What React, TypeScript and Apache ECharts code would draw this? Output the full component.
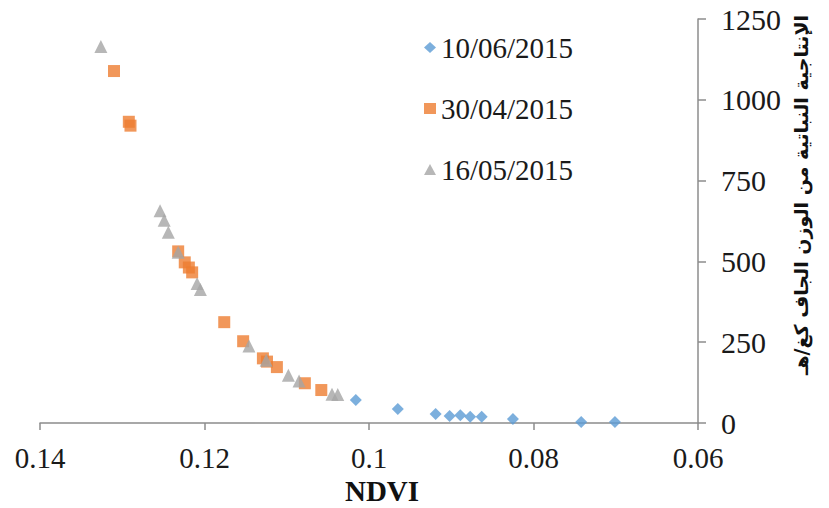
import React, { useEffect, useRef } from "react";
import * as echarts from "echarts";

const seriesNames = ["10/06/2015", "30/04/2015", "16/05/2015"];

const juneData: [number, number][] = [
  [0.1016, 71], [0.0965, 43], [0.0919, 28], [0.0902, 22], [0.0889, 24],
  [0.0877, 19], [0.0863, 19], [0.0825, 12], [0.0742, 3], [0.0701, 3],
];

const aprilData: [number, number][] = [
  [0.131, 1089], [0.1292, 932], [0.129, 920], [0.1232, 531], [0.1224, 497],
  [0.1219, 481], [0.1215, 466], [0.1176, 312], [0.1153, 253], [0.1129, 200],
  [0.1124, 190], [0.1112, 173], [0.1078, 123], [0.1058, 102],
];

const mayData: [number, number][] = [
  [0.1326, 1165], [0.1254, 657], [0.1249, 627], [0.1244, 590], [0.1232, 528],
  [0.1209, 432], [0.1205, 413], [0.1146, 238], [0.1125, 194], [0.1098, 148],
  [0.1085, 130], [0.1045, 89], [0.1038, 88],
];

const xTicks = { min: 0.06, max: 0.14, interval: 0.02 };
const yTicks = { min: 0, max: 1250, interval: 250 };

const xName = "NDVI";
const yName = "الإنتاجية النباتية من الوزن الجاف كغ/هـ";

const colors = ["#5B9BD5", "#ED7D31", "#A5A5A5"];

export default function App() {
  const ref = useRef<HTMLDivElement>(null);
  useEffect(() => {
    if (!ref.current) return;
    const chart = echarts.init(ref.current, undefined, { renderer: "svg" });
    const serif = "Liberation Serif";
    chart.setOption({
      animation: false,
      backgroundColor: "#ffffff",
      grid: { left: 40, right: 131, top: 19, bottom: 85, containLabel: false, outerBoundsMode: "none" },
      legend: {
        orient: "vertical",
        left: 419,
        top: 28,
        itemGap: 32,
        itemWidth: 12,
        itemHeight: 11,
        textStyle: { fontFamily: serif, fontSize: 29, color: "#1a1a1a" },
        data: seriesNames,
      },
      xAxis: {
        type: "value",
        inverse: true,
        min: xTicks.min,
        max: xTicks.max,
        interval: xTicks.interval,
        name: xName,
        nameLocation: "middle",
        nameGap: 52,
        nameTextStyle: {
          fontFamily: serif,
          fontSize: 29,
          fontWeight: "bold",
          color: "#111",
          padding: [0, 0, 0, 26],
        },
        axisLine: { show: true, lineStyle: { color: "#8c8c8c", width: 1.5 } },
        axisTick: { show: true, inside: false, length: 7, lineStyle: { color: "#8c8c8c", width: 1.5 } },
        splitLine: { show: false },
        axisLabel: {
          fontFamily: serif,
          fontSize: 29,
          color: "#1a1a1a",
          margin: 20,
          formatter: (v: number) => String(+v.toFixed(2)),
        },
      },
      yAxis: {
        type: "value",
        position: "right",
        min: yTicks.min,
        max: yTicks.max,
        interval: yTicks.interval,
        name: yName,
        nameLocation: "middle",
        nameRotate: 90,
        nameGap: 92,
        nameTextStyle: {
          fontFamily: "DejaVu Sans",
          fontSize: 19,
          fontWeight: "bold",
          color: "#111",
          padding: [0, 0, 0, 52],
        },
        axisLine: { show: true, lineStyle: { color: "#8c8c8c", width: 1.5 } },
        axisTick: { show: true, inside: false, length: 8, lineStyle: { color: "#8c8c8c", width: 1.5 } },
        splitLine: { show: false },
        axisLabel: {
          fontFamily: serif,
          fontSize: 30,
          color: "#1a1a1a",
          margin: 23,
          formatter: (v: number) => String(v),
        },
      },
      series: [
        { name: seriesNames[0], type: "scatter", symbol: "diamond", symbolSize: 12, data: juneData, itemStyle: { color: colors[0] } },
        { name: seriesNames[1], type: "scatter", symbol: "rect", symbolSize: 12, data: aprilData, itemStyle: { color: colors[1] } },
        { name: seriesNames[2], type: "scatter", symbol: "triangle", symbolSize: 13, data: mayData, itemStyle: { color: colors[2] } },
      ],
    });
    return () => chart.dispose();
  }, []);
  return (
    <div
      ref={ref}
      style={{ position: "fixed", left: 0, top: 0, width: 829, height: 508, background: "#fff" }}
    />
  );
}
